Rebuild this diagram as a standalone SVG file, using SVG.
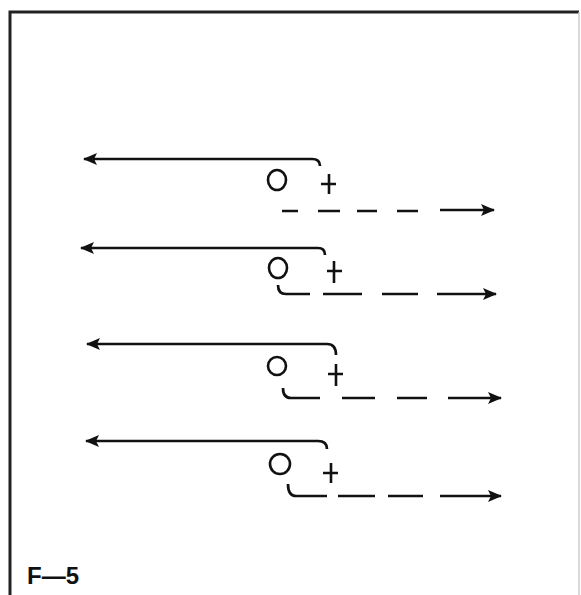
<svg xmlns="http://www.w3.org/2000/svg" width="581" height="595" viewBox="0 0 581 595">
<style>
.ln{fill:none;stroke:#111;stroke-width:2.7;stroke-linecap:butt}
.sym{fill:none;stroke:#111;stroke-width:2.6}
.lbl{font-family:"Liberation Sans",Arial,sans-serif;font-weight:bold;font-size:24px;fill:#111}
</style>
<defs>
<marker id="ah" viewBox="0 0 14 12" refX="13" refY="6" markerWidth="14" markerHeight="12" markerUnits="userSpaceOnUse" orient="auto">
<path d="M0,0 L14,6 L0,12 L3,6 Z" fill="#111"/>
</marker>
</defs>
<rect x="0" y="0" width="581" height="595" fill="#fff"/>
<g id="frame">
<path d="M10,595 L10,12 L579,12" fill="none" stroke="#222" stroke-width="3"/>
<path d="M579,12 L579,595" fill="none" stroke="#ccc" stroke-width="1.5"/>
</g>
<g id="connectors">
<!-- row 1 -->
<path class="ln" d="M312,159 Q320,159 320,166 M312,159 L84,159" marker-end="url(#ah)"/>
<path class="ln" d="M282,211 L298,211 M318,211 L340,211 M357,211 L377,211 M397,211 L418,211"/>
<path class="ln" d="M440,210 L494,210" marker-end="url(#ah)"/>
<!-- row 2 -->
<path class="ln" d="M318,248 Q325,248 325,255 M318,248 L81,248" marker-end="url(#ah)"/>
<path class="ln" d="M278,285 Q278,294 286,294 L310,294 M323,294 L362,294 M382,294 L418,294"/>
<path class="ln" d="M437,294 L496,294" marker-end="url(#ah)"/>
<!-- row 3 -->
<path class="ln" d="M327,344 Q336,344 336,355 M327,344 L87,344" marker-end="url(#ah)"/>
<path class="ln" d="M283,388 Q283,398 291,398 L320,398 M342,398 L375,398 M397,398 L427,398"/>
<path class="ln" d="M448,398 L501,398" marker-end="url(#ah)"/>
<!-- row 4 -->
<path class="ln" d="M318,441 Q327,441 327,449 M318,441 L86,441" marker-end="url(#ah)"/>
<path class="ln" d="M288,484 Q288,496 296,496 L327,496 M338,496 L375,496 M388,496 L423,496"/>
<path class="ln" d="M440,496 L501,496" marker-end="url(#ah)"/>
</g>
<g id="node-1">
<ellipse class="sym" cx="277" cy="180" rx="9" ry="10"/>
<path class="sym" d="M321,184 L336,184 M329,174 L329,194"/>
</g>
<g id="node-2">
<ellipse class="sym" cx="278" cy="268" rx="9" ry="10"/>
<path class="sym" d="M327,271 L342,271 M334,261 L334,283"/>
</g>
<g id="node-3">
<ellipse class="sym" cx="277" cy="366" rx="9" ry="9"/>
<path class="sym" d="M328,374 L343,374 M336,364 L336,386"/>
</g>
<g id="node-4">
<ellipse class="sym" cx="280" cy="464" rx="10" ry="10"/>
<path class="sym" d="M323,473 L338,473 M331,463 L331,483"/>
</g>
<g id="label">
<text class="lbl" x="27" y="584">F—5</text>
</g>
</svg>
